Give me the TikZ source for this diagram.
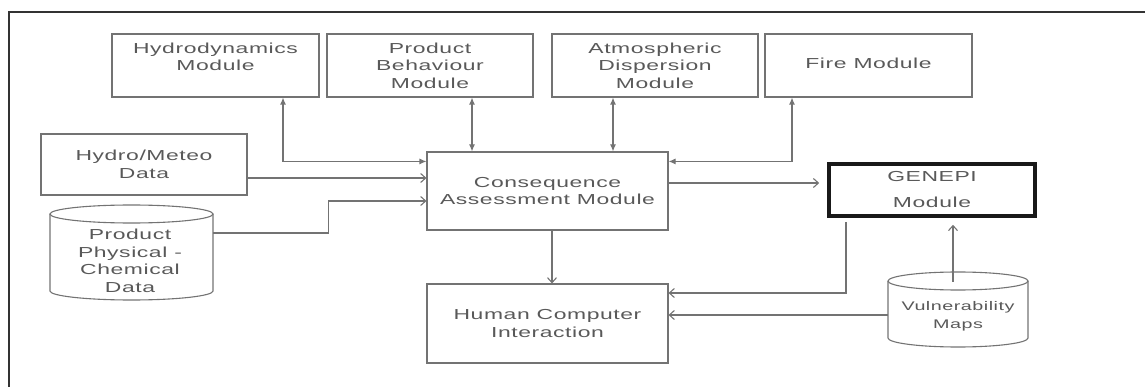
\documentclass[tikz,border=0pt]{standalone}
\usepackage{fontspec}
\setmainfont[FakeStretch=1.58,LetterSpace=4]{Liberation Sans}
\usetikzlibrary{arrows.meta,calc}
\begin{document}
\begin{tikzpicture}[x=1pt,y=-1pt,
  box/.style={draw=black!55,line width=1.1pt,inner sep=0pt,align=center,text=black!65,
    font=\fontsize{14.5}{17.5}\selectfont},
  cyl/.style={inner sep=0pt,align=center,text=black!65,font=\fontsize{14.5}{17.5}\selectfont},
  cylline/.style={draw=black!55,line width=1.1pt},
  bi/.style={draw=black!55,line width=1.1pt,{Latex[length=7pt,width=6pt]}-{Latex[length=7pt,width=6pt]}},
  op/.style={draw=black!55,line width=1.1pt,-{Straight Barb[length=5pt,width=9pt]}}]
\useasboundingbox (0,0) rectangle (1145,387);
\draw[black!80,line width=1.6pt] (9,392) -- (9,12) -- (1150,12);
% boxes
\node[box,minimum width=207pt,minimum height=63pt] (hydro) at (215.5,65.5) {Hydrodynamics\\Module\\\mbox{}};
\node[box,minimum width=206pt,minimum height=63pt] (prodb) at (430,65.5) {Product\\Behaviour\\Module};
\node[box,minimum width=206pt,minimum height=63pt] (atmo) at (655,65.5) {Atmospheric\\Dispersion\\Module};
\node[box,minimum width=207pt,minimum height=63pt] (fire) at (868.5,65.5) {\raisebox{4.5pt}{Fire Module}};
\node[box,minimum width=206pt,minimum height=61pt] (meteo) at (144,164.5) {Hydro/Meteo\\Data};
\node[box,minimum width=241pt,minimum height=78pt] (cons) at (547.5,191) {Consequence\\Assessment Module};
\node[box,minimum width=241pt,minimum height=79pt] (hci) at (547.5,323.5) {Human Computer\\Interaction};
\node[box,draw=black!90,line width=3.6pt,minimum width=206pt,minimum height=52pt,
  font=\fontsize{14.5}{26}\selectfont] (genepi) at (932,190) {GENEPI\\Module};
% cylinders
\node[cyl,minimum width=163pt,minimum height=95pt] (prodcyl) at (131.5,252.5) {};
\node[cyl] at (130,261) {Product\\Physical -\\Chemical\\Data};
\draw[cylline] (131.5,214) ellipse [x radius=81.5pt,y radius=9pt];
\draw[cylline] (50,214) -- (50,291) arc[start angle=180,end angle=360,x radius=81.5pt,y radius=9pt] -- (213,214);
\node[cyl,minimum width=140pt,minimum height=75pt] (vuln) at (958,309.5) {};
\node[cyl,font=\fontsize{12.5}{18}\selectfont] at (958,316) {Vulnerability\\Maps};
\draw[cylline] (958,281) ellipse [x radius=70pt,y radius=9pt];
\draw[cylline] (888,281) -- (888,338) arc[start angle=180,end angle=360,x radius=70pt,y radius=9pt] -- (1028,281);
% connectors
\draw[bi] ([yshift=-10pt]cons.north west) -| ([xshift=67.5pt]hydro.south);
\draw[bi] ([xshift=42pt]prodb.south) -- ([xshift=42pt]prodb.south |- cons.north);
\draw[bi] ([xshift=-42pt]atmo.south) -- ([xshift=-42pt]atmo.south |- cons.north);
\draw[bi] ([yshift=-10pt]cons.north east) -| ([xshift=-76.5pt]fire.south);
\draw[op] ([yshift=-13.5pt]meteo.east) -- ([yshift=-13.5pt]meteo.east -| cons.west);
\draw[op] ([yshift=19.5pt]prodcyl.east) -- ++(115pt,0) |- ([yshift=-10pt]cons.west);
\draw[op,shorten >=8pt] ([yshift=8pt]cons.east) -- ([yshift=8pt]cons.east -| genepi.west);
\draw[op] ([xshift=4.5pt]cons.south) -- ([xshift=4.5pt]hci.north);
\draw[op,shorten <=4pt] ([xshift=-86pt]genepi.south) |- ([yshift=30.5pt]hci.east);
\draw[op] ([yshift=-5.5pt]vuln.west) -- ([yshift=-5.5pt]vuln.west -| hci.east);
\draw[op,shorten >=7pt] ([xshift=-5pt,yshift=-10pt]vuln.north) -- ([xshift=-5pt]vuln.north |- genepi.south);
\end{tikzpicture}
\end{document}
